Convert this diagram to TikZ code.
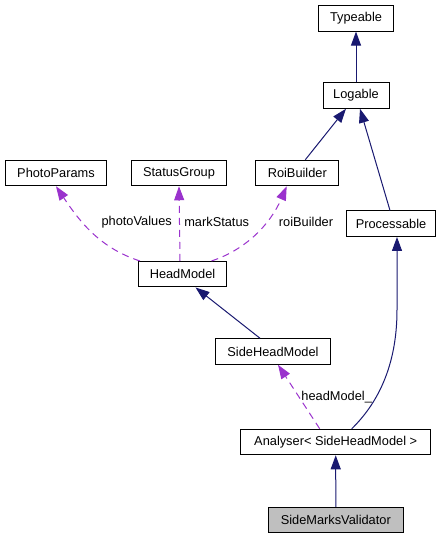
\documentclass[tikz,border=0pt]{standalone}
\usepackage{fontspec}
\setmainfont{Liberation Sans}
\usetikzlibrary{arrows.meta}
\definecolor{navy}{HTML}{191970}
\definecolor{orch}{HTML}{9A32CD}
\begin{document}
\begin{tikzpicture}[x=1pt,y=-1pt,
  box/.style={draw=black,line width=1pt,fill=white,minimum height=25.5pt,inner sep=0pt,font=\fontsize{12.8}{15}\selectfont},
  inh/.style={draw=navy,line width=1pt,-{Triangle[length=14pt,width=10pt]},color=navy},
  use/.style={draw=orch,line width=1pt,dash pattern=on 7pt off 5pt,-{Triangle[length=14pt,width=10pt]},color=orch},
  lbl/.style={font=\fontsize{12.8}{15}\selectfont,inner sep=0pt}]
\useasboundingbox (0,0) rectangle (447,539);
\node[box,minimum width=75pt] (typeable) at (356,18.3) {Typeable};
\node[box,minimum width=66pt] (logable) at (356,95.5) {Logable};
\node[box,minimum width=101pt] (photo) at (56,173) {PhotoParams};
\node[box,minimum width=95.5pt] (status) at (179,173) {StatusGroup};
\node[box,minimum width=83.3pt] (roi) at (297.3,173) {RoiBuilder};
\node[box,minimum width=88.3pt] (proc) at (391,223.7) {Processable};
\node[box,minimum width=88.3pt] (head) at (182.5,274.2) {HeadModel};
\node[box,minimum width=114.3pt] (side) at (273,351.5) {SideHeadModel};
\node[box,minimum width=190pt] (analyser) at (335.7,442) {Analyser< SideHeadModel >};
\node[box,minimum width=135pt,fill=black!25] (smv) at (335.8,520) {SideMarksValidator};
% inheritance
\draw[inh] (logable) -- (typeable);
\draw[inh] ([xshift=8pt]roi.north) -- ([xshift=-10pt]logable.south);
\draw[inh] ([xshift=-1pt]proc.north) -- ([xshift=4pt]logable.south);
\draw[inh] ([xshift=-13pt]side.north) -- ([xshift=13pt]head.south);
\draw[inh] ([xshift=16pt]analyser.north) .. controls (373,408) and (397,372) .. (397,310) -- ([xshift=6pt]proc.south);
\draw[inh] (smv) -- (analyser);
% usage
\draw[use] ([xshift=2pt]head.north west) .. controls (100,248) and (80,222) .. (photo.south);
\draw[use] ([xshift=-2.5pt]head.north) -- (status.south);
\draw[use] ([xshift=29pt]head.north) .. controls (245,250) and (270,225) .. ([xshift=-10.6pt]roi.south);
\draw[use] ([xshift=-16pt]analyser.north) -- ([xshift=5pt]side.south);
% labels
\node[lbl] (l1) at (136.7,222.3) {photoValues};
\node[lbl] (l2) at (216.7,222.3) {markStatus};
\node[lbl] (l3) at (306,222.3) {roiBuilder};
\node[lbl] (l4) at (336.7,396.7) {headModel\_};
\end{tikzpicture}
\end{document}
